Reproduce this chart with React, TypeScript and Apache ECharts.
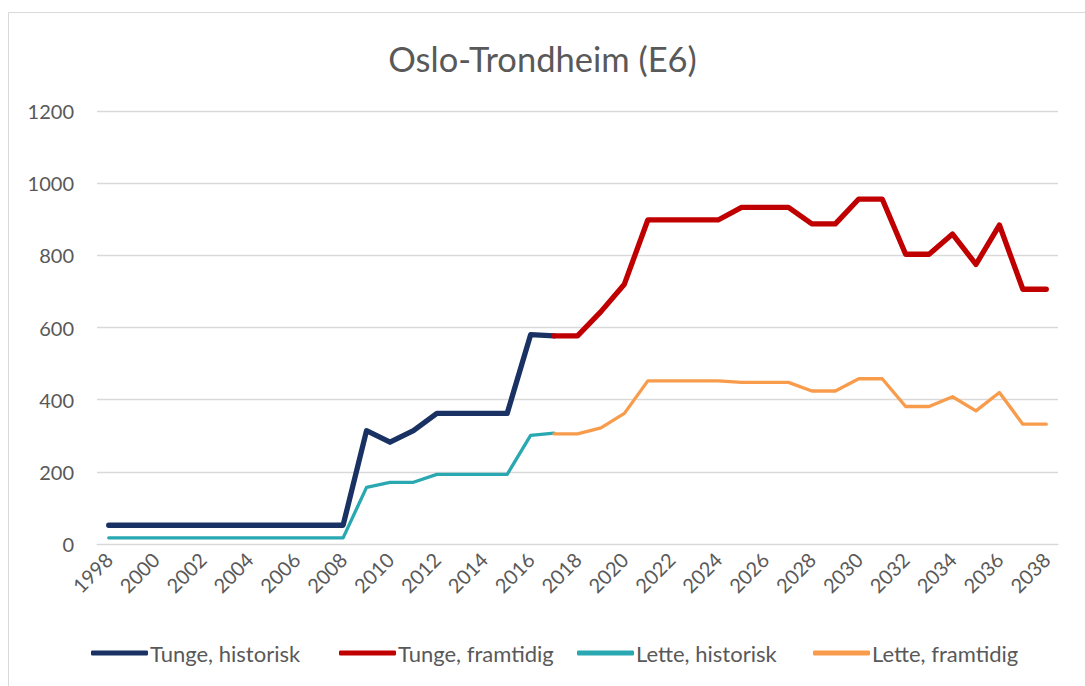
import React, { useEffect, useRef } from "react";
import * as echarts from "echarts";

const years: string[] = [];
for (let y = 1998; y <= 2038; y++) years.push(String(y));

const yTicks = [0, 200, 400, 600, 800, 1000, 1200];

const tungeHistorisk = [52, 52, 52, 52, 52, 52, 52, 52, 52, 52, 52, 314, 282, 314, 362, 362, 362, 362, 580, 577];
const tungeFramtidig = [577, 577, 644, 720, 898, 898, 898, 898, 933, 933, 933, 887, 887, 956, 956, 803, 803, 859, 775, 884, 706, 706];
const letteHistorisk = [17, 17, 17, 17, 17, 17, 17, 17, 17, 17, 17, 157, 171, 171, 193, 193, 193, 193, 301, 307];
const letteFramtidig = [305, 305, 322, 362, 452, 452, 452, 452, 448, 448, 448, 424, 424, 458, 458, 381, 381, 408, 369, 420, 332, 332];

const seriesNames = ["Tunge, historisk", "Tunge, framtidig", "Lette, historisk", "Lette, framtidig"];
const seriesColors = ["#1a3263", "#c00000", "#2aa8b1", "#f89c4c"];
const legendLefts = [86, 334, 572, 808];

const histStart = 0; // 1998
const futStart = 2017 - 1998;

function pad(values: number[], start: number): (number | null)[] {
  const out: (number | null)[] = years.map(() => null);
  values.forEach((v, i) => (out[start + i] = v));
  return out;
}

const FONT = "Lato";
const TXT = "#595959";

export default function App() {
  const ref = useRef<HTMLDivElement>(null);
  useEffect(() => {
    if (!ref.current) return;
    const chart = echarts.init(ref.current, undefined, { renderer: "svg" });
    const datasets = [
      pad(tungeHistorisk, histStart),
      pad(tungeFramtidig, futStart),
      pad(letteHistorisk, histStart),
      pad(letteFramtidig, futStart),
    ];
    const widths = [5.3, 5.3, 3.3, 3.3];
    chart.setOption({
      animation: false,
      backgroundColor: "#ffffff",
      title: {
        text: "Oslo-Trondheim (E6)",
        left: "center",
        top: 36,
        textStyle: { fontFamily: FONT, fontSize: 34.5, fontWeight: "normal", color: TXT },
      },
      graphic: [
        {
          type: "rect",
          shape: { x: 8.5, y: 12.5, width: 1100, height: 700 },
          style: { fill: "none", stroke: "#d9d9d9", lineWidth: 1 },
          silent: true,
        },
      ],
      legend: seriesNames.map((name, i) => ({
        left: legendLefts[i],
        top: 637,
        itemWidth: 57,
        itemHeight: 5,
        icon: "roundRect",
        textStyle: { fontFamily: FONT, fontSize: 22, color: TXT, padding: [0, 0, 0, -3] },
        data: [name],
      })),
      grid: { left: 97, right: 27, top: 111, bottom: 142, containLabel: false },
      xAxis: {
        type: "category",
        data: years,
        boundaryGap: true,
        axisLine: { show: true, lineStyle: { color: "#d9d9d9", width: 1 } },
        axisTick: { show: false },
        axisLabel: {
          interval: 1,
          rotate: 45,
          margin: 12,
          fontFamily: FONT,
          fontSize: 20,
          color: TXT,
        },
      },
      yAxis: {
        type: "value",
        min: yTicks[0],
        max: yTicks[yTicks.length - 1],
        interval: yTicks[1] - yTicks[0],
        axisLine: { show: false },
        axisTick: { show: false },
        axisLabel: {
          margin: 23,
          fontFamily: FONT,
          fontSize: 20,
          color: TXT,
          formatter: (v: number) => String(v),
        },
        splitLine: { lineStyle: { color: "#d9d9d9", width: 1.3 } },
      },
      series: seriesNames.map((name, i) => ({
        name,
        type: "line",
        data: datasets[i],
        showSymbol: false,
        color: seriesColors[i],
        lineStyle: { width: widths[i], color: seriesColors[i], cap: "round", join: "round" },
        z: i < 2 ? 3 : 2,
      })),
    });
    return () => chart.dispose();
  }, []);
  return (
    <div
      ref={ref}
      style={{ position: "absolute", left: 0, top: 0, width: 1085, height: 686 }}
    />
  );
}
